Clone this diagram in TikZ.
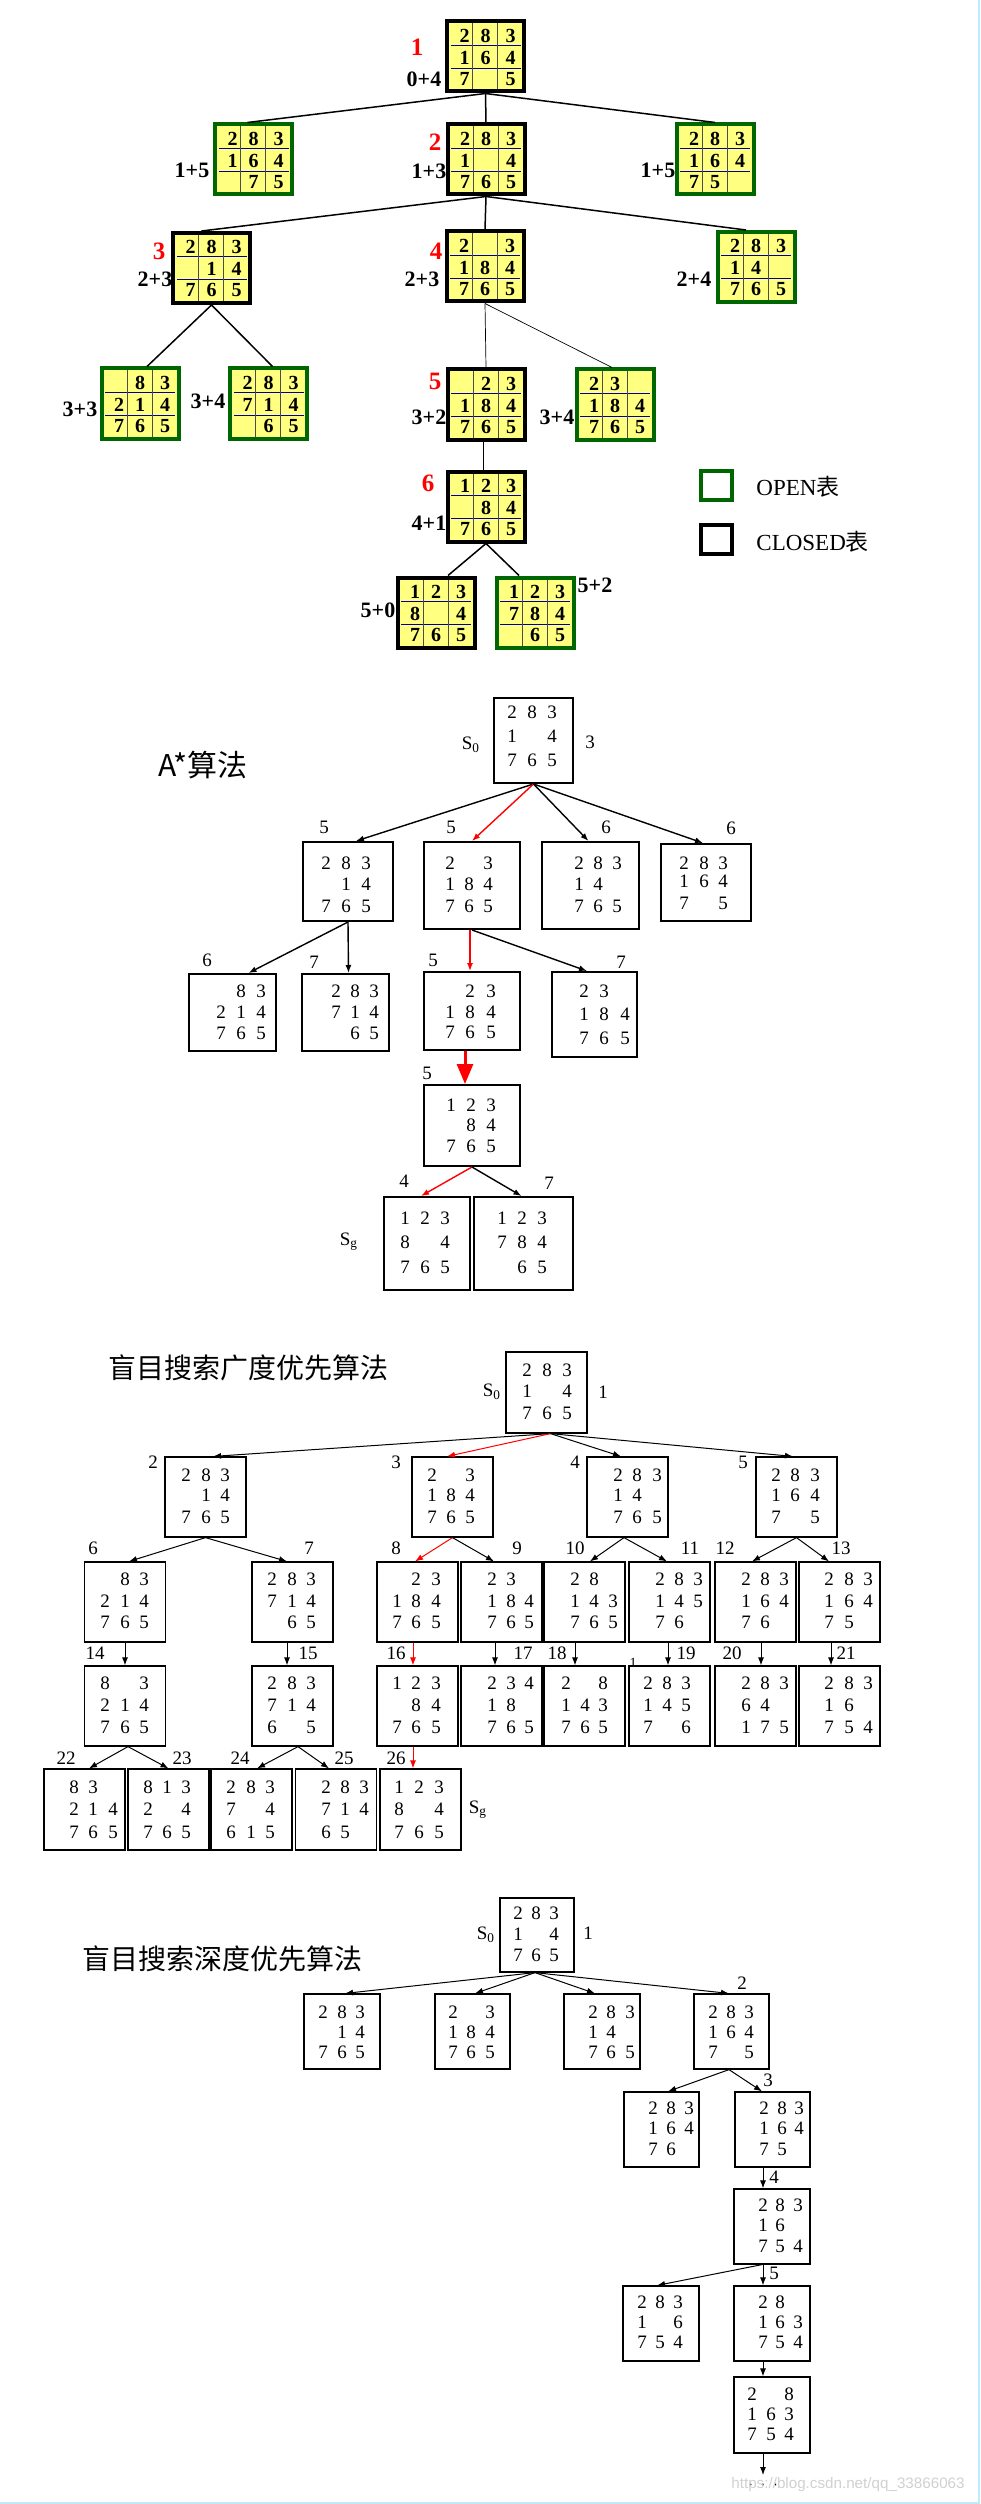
\documentclass[tikz,border=0pt]{standalone}
\usepackage{fontspec}
\setmainfont{Liberation Serif}
\newfontfamily\cjk{Noto Sans CJK SC}
\newfontfamily\wmfont{Liberation Sans}
\usetikzlibrary{arrows.meta}
\definecolor{pzy}{HTML}{FFFF80}
\definecolor{pzg}{HTML}{006600}
\definecolor{pzb}{HTML}{000099}
\newcounter{dgc}
\tikzset{
  dgA/.style={inner sep=0pt, anchor=base, font=\bfseries\fontsize{10}{10}\selectfont},
  dgt/.style={inner sep=0pt, font=\fontsize{9.5}{10}\selectfont},
  lbl/.style={inner sep=0pt, font=\fontsize{9.5}{10}\selectfont},
  lbA/.style={inner sep=0pt, font=\bfseries\fontsize{11}{11}\selectfont},
  lbR/.style={inner sep=0pt, text=red, font=\bfseries\fontsize{12.5}{12}\selectfont},
  bxA/.style={draw, line width=1pt, inner sep=0pt},
  bxB/.style={draw, line width=0.6pt, inner sep=0pt},
  eA/.style={line width=0.75pt},
  eT/.style={line width=0.35pt},
  arr/.style={line width=0.7pt, -{Latex[length=4pt,width=3pt]}},
  arrs/.style={line width=0.5pt, -{Latex[length=4pt,width=3pt]}},
}
\newcommand\pzA[5]{%
  \node[draw=#4, fill=pzy, line width=2pt, minimum width=38.5pt, minimum height=35pt, inner sep=0pt] (#1) at (#2,#3) {};
  \begin{scope}[shift={(#2,#3)}]
    \draw[pzb, line width=0.4pt] (-35,-11.5) -- (35,-11.5) (-35,11.5) -- (35,11.5);
    \draw[black!70, line width=0.3pt] (-13,-33) -- (-13,33) (12,-33) -- (12,33);
  \end{scope}
  \foreach \d [count=\k from 0] in {#5} {%
    \pgfmathtruncatemacro\cc{mod(\k,3)}\pgfmathtruncatemacro\rr{int(\k/3)}%
    \pgfmathsetmacro\xx{#2+{-21,0,25}[\cc]}\pgfmathsetmacro\yy{#3+{-14,8,29}[\rr]}%
    \stepcounter{dgc}\node[dgA] (g\arabic{dgc}) at (\xx,\yy) {\d};
  }}
\newcommand\bx[6]{\node[#6, minimum width=#4*0.5pt, minimum height=#5*0.5pt] (#1) at (#2,#3) {};}
\newcommand\gd[7]{%
  \foreach \d [count=\k from 0] in {#7} {%
    \pgfmathtruncatemacro\cc{mod(\k,3)}\pgfmathtruncatemacro\rr{int(\k/3)}%
    \pgfmathsetmacro\xx{{#1,#2,#3}[\cc]}\pgfmathsetmacro\yy{{#4,#5,#6}[\rr]}%
    \stepcounter{dgc}\node[dgt] (g\arabic{dgc}) at (\xx,\yy) {\d};
  }}
\newcommand\lb[4][lbl]{\stepcounter{dgc}\node[#1] (t\arabic{dgc}) at (#2,#3) {#4};}
\begin{document}
\begin{tikzpicture}[x=0.5pt,y=-0.5pt]
\useasboundingbox (0,0) rectangle (980,2504);
\fill[white] (0,0) rectangle (980,2504);
\draw[color=cyan!25, line width=1pt] (979,0) -- (979,2503) -- (0,2503);

% ===== Section 1 =====
\pzA{a1}{485.5}{56.5}{black}{2,8,3,1,6,4,7,{},5}
\pzA{a2l}{253.5}{159.5}{pzg}{2,8,3,1,6,4,{},7,5}
\pzA{a2}{486}{159.5}{black}{2,8,3,1,{},4,7,6,5}
\pzA{a2r}{715}{159.5}{pzg}{2,8,3,1,6,4,7,5,{}}
\pzA{a3}{211.5}{268}{black}{2,8,3,{},1,4,7,6,5}
\pzA{a4}{485}{266.5}{black}{2,{},3,1,8,4,7,6,5}
\pzA{a3r}{756}{267}{pzg}{2,8,3,1,4,{},7,6,5}
\pzA{a33}{140}{403.5}{pzg}{{},8,3,2,1,4,7,6,5}
\pzA{a34}{268.5}{403.5}{pzg}{2,8,3,7,1,4,{},6,5}
\pzA{a5}{486}{404.5}{black}{{},2,3,1,8,4,7,6,5}
\pzA{a5r}{615}{404.5}{pzg}{2,3,{},1,8,4,7,6,5}
\pzA{a6}{486}{506.5}{black}{1,2,3,{},8,4,7,6,5}
\pzA{a50}{436}{612.5}{black}{1,2,3,8,{},4,7,6,5}
\pzA{a52}{535}{612.5}{pzg}{1,2,3,7,8,4,{},6,5}
\draw[eA] (a1.south) -- ([xshift=-3pt]a2l.north);
\draw[eA] (a1.south) -- (a2.north);
\draw[eA] (a1.south) -- (a2r.north);
\draw[eA] (a2.south) -- ([xshift=-5pt]a3.north);
\draw[eA] (a2.south) -- (a4.north);
\draw[eA] (a2.south) -- ([xshift=-5pt]a3r.north);
\draw[eA] (a3.south) -- ([xshift=3.5pt]a33.north);
\draw[eA] (a3.south) -- ([xshift=2pt]a34.north);
\draw[eT] (a4.south) -- (a5.north);
\draw[eT] (a4.south) -- ([xshift=-1.5pt]a5r.north);
\draw[eT] ([xshift=-1.5pt]a5.south) -- ([xshift=-1.5pt]a6.north);
\draw[eA] (a6.south) -- ([xshift=6pt]a50.north);
\draw[eA] (a6.south) -- ([xshift=-8pt]a52.north);
\lb[lbR]{417}{47}{1}\lb[lbA]{424}{79}{0+4}
\lb[lbA]{192}{170}{1+5}\lb[lbR]{435}{142}{2}\lb[lbA]{429}{171}{1+3}\lb[lbA]{658}{170}{1+5}
\lb[lbR]{159}{251}{3}\lb[lbA]{155}{279}{2+3}\lb[lbR]{436}{251}{4}\lb[lbA]{422}{279}{2+3}\lb[lbA]{694}{279}{2+4}
\lb[lbA]{80}{409}{3+3}\lb[lbA]{208}{401}{3+4}
\lb[lbR]{435}{381}{5}\lb[lbA]{429}{417}{3+2}\lb[lbA]{557}{417}{3+4}
\lb[lbR]{428}{483}{6}\lb[lbA]{429}{523}{4+1}
\lb[lbA]{378}{610}{5+0}\lb[lbA]{595}{585}{5+2}
\node[draw=pzg, line width=2pt, minimum width=15.5pt, minimum height=14.5pt, inner sep=0pt] (lgo) at (716.5,485.5) {};
\node[draw=black, line width=2pt, minimum width=15.5pt, minimum height=14.5pt, inner sep=0pt] (lgc) at (716.5,539.5) {};
\node[anchor=west, inner sep=0pt, font=\fontsize{11.5}{12}\selectfont] (lgot) at (756,487) {OPEN{\cjk 表}};
\node[anchor=west, inner sep=0pt, font=\fontsize{11.5}{12}\selectfont] (lgct) at (756,542) {CLOSED{\cjk 表}};

% ===== Section 2: A* =====
\node[inner sep=0pt, font=\cjk\fontsize{15}{15}\selectfont] (titA) at (203,765) {A*算法};
\bx{s0}{533.5}{740.5}{79}{85}{bxA}
\bx{A}{348}{881.5}{90}{79}{bxA}
\bx{B}{472}{885.5}{96}{87}{bxA}
\bx{C}{590.5}{885.5}{97}{87}{bxA}
\bx{D}{706}{882.5}{90}{77}{bxA}
\bx{E}{232.5}{1012.5}{87}{77}{bxA}
\bx{F}{345.5}{1012.5}{87}{77}{bxA}
\bx{G}{472}{1011}{96}{78}{bxA}
\bx{H}{594.5}{1014.5}{85}{85}{bxA}
\bx{I}{472}{1125.5}{96}{81}{bxA}
\bx{J}{427}{1243.5}{86}{93}{bxA}
\bx{K}{523.5}{1243.5}{99}{93}{bxA}
\gd{512}{532}{552}{712}{736}{760}{2,8,3,1,{},4,7,6,5}
\gd{326}{346}{366}{863}{884}{906}{2,8,3,{},1,4,7,6,5}
\gd{450}{469}{488}{863}{884}{906}{2,{},3,1,8,4,7,6,5}
\gd{579}{598}{617}{863}{884}{906}{2,8,3,1,4,{},7,6,5}
\gd{684}{704}{723}{863}{881}{903}{2,8,3,1,6,4,7,{},5}
\gd{221}{241}{261}{991}{1012}{1033}{{},8,3,2,1,4,7,6,5}
\gd{336}{355}{374}{991}{1012}{1033}{2,8,3,7,1,4,{},6,5}
\gd{450}{470}{491}{991}{1012}{1032}{{},2,3,1,8,4,7,6,5}
\gd{584}{604}{625}{991}{1014}{1038}{2,3,{},1,8,4,7,6,5}
\gd{451}{471}{491}{1105}{1125}{1146}{1,2,3,{},8,4,7,6,5}
\gd{405}{425}{445}{1218}{1242}{1267}{1,2,3,8,{},4,7,6,5}
\gd{502}{522}{542}{1218}{1242}{1267}{1,2,3,7,8,4,{},6,5}
\draw[arr] (s0.south) -- ([xshift=4pt]A.north);
\draw[arr, red] (s0.south) -- (B.north);
\draw[arr] (s0.south) -- ([xshift=-1pt]C.north);
\draw[arr] (s0.south) -- ([xshift=-1.5pt]D.north);
\draw[arr] (A.south) -- ([xshift=8pt]E.north);
\draw[arr] (A.south) -- ([xshift=1.5pt]F.north);
\draw[arr, red] ([xshift=-1pt]B.south) -- ([xshift=-1pt]G.north);
\draw[arr] (B.south) -- ([xshift=-3.75pt]H.north);
\draw[red, line width=1.5pt, -{Triangle[length=10pt,width=8pt]}] ([xshift=-3.5pt]G.south) -- ([xshift=-3.5pt]I.north);
\draw[arr, red] (I.south) -- ([xshift=-3pt]J.north);
\draw[arr] (I.south) -- ([xshift=-1pt]K.north);
\lb{471}{745}{S\textsubscript{0}}\lb{590}{742}{3}
\lb{324}{827}{5}\lb{451}{827}{5}\lb{606}{827}{6}\lb{731}{828}{6}
\lb{207}{960}{6}\lb{314}{962}{7}\lb{433}{960}{5}\lb{621}{962}{7}
\lb{427}{1073}{5}\lb{404}{1181}{4}\lb{549}{1183}{7}\lb{349}{1242}{S\textsubscript{g}}

% ===== Section 3: BFS =====
\node[inner sep=0pt, font=\cjk\fontsize{14}{14}\selectfont] (titB) at (248,1368) {盲目搜索广度优先算法};
\bx{b1}{546.5}{1392.5}{81}{81}{bxB}
\bx{b2}{205.5}{1497}{81}{80}{bxB}
\bx{b3}{452.5}{1497}{81}{80}{bxB}
\bx{b4}{627.5}{1497}{81}{80}{bxB}
\bx{b5}{796.5}{1497}{81}{80}{bxB}
\bx{n6}{125}{1602}{81}{80}{bxB}
\bx{n7}{292.5}{1602}{81}{80}{bxB}
\bx{n8}{417.5}{1602}{81}{80}{bxB}
\bx{n9}{501.5}{1602}{81}{80}{bxB}
\bx{n10}{584.5}{1602}{81}{80}{bxB}
\bx{n11}{669.5}{1602}{81}{80}{bxB}
\bx{n12}{755.5}{1602}{81}{80}{bxB}
\bx{n13}{839.5}{1602}{81}{80}{bxB}
\bx{n14}{125}{1706}{81}{80}{bxB}
\bx{n15}{292.5}{1706}{81}{80}{bxB}
\bx{n16}{417.5}{1706}{81}{80}{bxB}
\bx{n17}{501.5}{1706}{81}{80}{bxB}
\bx{n18}{584.5}{1706}{81}{80}{bxB}
\bx{n19}{669.5}{1706}{81}{80}{bxB}
\bx{n20}{755.5}{1706}{81}{80}{bxB}
\bx{n21}{839.5}{1706}{81}{80}{bxB}
\bx{n22}{84.5}{1809.5}{81}{81}{bxB}
\bx{n23}{168.5}{1809.5}{81}{81}{bxB}
\bx{n24}{251.5}{1809.5}{81}{81}{bxB}
\bx{n25}{336}{1809.5}{81}{81}{bxB}
\bx{n26}{420.5}{1809.5}{81}{81}{bxB}
\gd{527}{547}{567}{1370}{1391}{1413}{2,8,3,1,{},4,7,6,5}
\gd{186}{206}{225}{1475}{1495}{1517}{2,8,3,{},1,4,7,6,5}
\gd{432}{451}{470}{1475}{1495}{1517}{2,{},3,1,8,4,7,6,5}
\gd{618}{637}{657}{1475}{1495}{1517}{2,8,3,1,4,{},7,6,5}
\gd{776}{795}{815}{1475}{1495}{1517}{2,8,3,1,6,4,7,{},5}
\gd{105}{125}{144}{1579}{1601}{1622}{{},8,3,2,1,4,7,6,5}
\gd{272}{292}{311}{1579}{1601}{1622}{2,8,3,7,1,4,{},6,5}
\gd{397}{416}{436}{1579}{1601}{1622}{{},2,3,1,8,4,7,6,5}
\gd{492}{511}{529}{1579}{1601}{1622}{2,3,{},1,8,4,7,6,5}
\gd{575}{594}{613}{1579}{1601}{1622}{2,8,{},1,4,3,7,6,5}
\gd{660}{679}{698}{1579}{1601}{1622}{2,8,3,1,4,5,7,6,{}}
\gd{746}{765}{784}{1579}{1601}{1622}{2,8,3,1,6,4,7,6,{}}
\gd{829}{849}{868}{1579}{1601}{1622}{2,8,3,1,6,4,7,5,{}}
\gd{105}{125}{144}{1683}{1705}{1727}{8,{},3,2,1,4,7,6,5}
\gd{272}{292}{311}{1683}{1705}{1727}{2,8,3,7,1,4,6,{},5}
\gd{397}{416}{436}{1683}{1705}{1727}{1,2,3,{},8,4,7,6,5}
\gd{492}{511}{529}{1683}{1705}{1727}{2,3,4,1,8,{},7,6,5}
\gd{566}{585}{603}{1683}{1705}{1727}{2,{},8,1,4,3,7,6,5}
\gd{648}{667}{686}{1683}{1705}{1727}{2,8,3,1,4,5,7,{},6}
\gd{746}{765}{784}{1683}{1705}{1727}{2,8,3,6,4,{},1,7,5}
\gd{829}{849}{868}{1683}{1705}{1727}{2,8,3,1,6,{},7,5,4}
\gd{74}{93}{113}{1787}{1809}{1832}{8,3,{},2,1,4,7,6,5}
\gd{148}{167}{186}{1787}{1809}{1832}{8,1,3,2,{},4,7,6,5}
\gd{231}{251}{270}{1787}{1809}{1832}{2,8,3,7,{},4,6,1,5}
\gd{326}{345}{364}{1787}{1809}{1832}{2,8,3,7,1,4,6,5,{}}
\gd{399}{419}{439}{1787}{1809}{1832}{1,2,3,8,{},4,7,6,5}
\draw[arrs] ([xshift=2pt]b1.south) -- ([xshift=3.75pt]b2.north);
\draw[arrs, red] ([xshift=2pt]b1.south) -- ([xshift=-2.75pt]b3.north);
\draw[arrs] ([xshift=2pt]b1.south) -- ([xshift=-3.25pt]b4.north);
\draw[arrs] ([xshift=2pt]b1.south) -- ([xshift=-1.75pt]b5.north);
\draw[arrs] (b2.south) -- ([xshift=2pt]n6.north);
\draw[arrs] (b2.south) -- ([xshift=-2.75pt]n7.north);
\draw[arrs, red] (b3.south) -- ([xshift=-1.25pt]n8.north);
\draw[arrs] (b3.south) -- ([xshift=-3.75pt]n9.north);
\draw[arrs] ([xshift=-1.75pt]b4.south) -- ([xshift=2.75pt]n10.north);
\draw[arrs] ([xshift=-1.75pt]b4.south) -- ([xshift=-1.25pt]n11.north);
\draw[arrs] (b5.south) -- ([xshift=-1.75pt]n12.north);
\draw[arrs] (b5.south) -- ([xshift=-5.25pt]n13.north);
\draw[arrs] (n6.south) -- (n14.north);
\draw[arrs] ([xshift=-2.75pt]n7.south) -- ([xshift=-2.75pt]n15.north);
\draw[arrs, red] ([xshift=-2.25pt]n8.south) -- ([xshift=-2.25pt]n16.north);
\draw[arrs] ([xshift=-3.25pt]n9.south) -- ([xshift=-3.25pt]n17.north);
\draw[arrs] ([xshift=-4.75pt]n10.south) -- ([xshift=-4.75pt]n18.north);
\draw[arrs] ([xshift=-0.75pt]n11.south) -- ([xshift=-0.75pt]n19.north);
\draw[arrs] ([xshift=2.75pt]n12.south) -- ([xshift=2.75pt]n20.north);
\draw[arrs] ([xshift=-4.25pt]n13.south) -- ([xshift=-4.25pt]n21.north);
\draw[arrs] ([xshift=1.5pt]n14.south) -- ([xshift=2.25pt]n22.north);
\draw[arrs] ([xshift=1.5pt]n14.south) -- (n23.north);
\draw[arrs] ([xshift=2.75pt]n15.south) -- ([xshift=2.75pt]n24.north);
\draw[arrs] ([xshift=2.75pt]n15.south) -- ([xshift=-3.5pt]n25.north);
\draw[arrs, red] ([xshift=-2.25pt]n16.south) -- ([xshift=-3.75pt]n26.north);
\lb{492}{1392}{S\textsubscript{0}}\lb{603}{1392}{1}
\lb{153}{1462}{2}\lb{396}{1462}{3}\lb{575}{1462}{4}\lb{743}{1462}{5}
\lb{93}{1548}{6}\lb{309}{1548}{7}\lb{396}{1548}{8}\lb{517}{1548}{9}\lb{575}{1548}{10}\lb{690}{1548}{11}\lb{725}{1548}{12}\lb{841}{1548}{13}
\lb{95}{1653}{14}\lb{308}{1653}{15}\lb{396}{1653}{16}\lb{523}{1653}{17}\lb{557}{1653}{18}\lb{686}{1653}{19}\lb{732}{1653}{20}\lb{846}{1653}{21}
\lb[lbl,font=\fontsize{7}{7}\selectfont]{633}{1663}{1}
\lb{66}{1758}{22}\lb{182}{1758}{23}\lb{240}{1758}{24}\lb{344}{1758}{25}\lb{396}{1758}{26}
\lb{478}{1810}{S\textsubscript{g}}

% ===== Section 4: DFS =====
\node[inner sep=0pt, font=\cjk\fontsize{14}{14}\selectfont] (titD) at (222,1959) {盲目搜索深度优先算法};
\bx{c0}{537}{1935}{74}{74}{bxB}
\bx{d1}{342}{2031.5}{76}{75}{bxB}
\bx{d2}{472.5}{2031.5}{75}{75}{bxB}
\bx{d3}{602}{2031.5}{76}{75}{bxB}
\bx{d4}{731.5}{2031.5}{75}{75}{bxB}
\bx{d5}{661.5}{2129.5}{75}{75}{bxB}
\bx{d6}{772.5}{2129.5}{75}{75}{bxB}
\bx{d7}{772}{2226.5}{76}{75}{bxB}
\bx{d8}{661}{2323.5}{76}{75}{bxB}
\bx{d9}{772}{2323.5}{76}{75}{bxB}
\bx{d10}{772}{2415}{76}{76}{bxB}
\gd{518}{536}{554}{1913}{1934}{1955}{2,8,3,1,{},4,7,6,5}
\gd{323}{342}{360}{2012}{2032}{2052}{2,8,3,{},1,4,7,6,5}
\gd{453}{471}{490}{2012}{2032}{2052}{2,{},3,1,8,4,7,6,5}
\gd{593}{611}{630}{2012}{2032}{2052}{2,8,3,1,4,{},7,6,5}
\gd{713}{731}{749}{2012}{2032}{2052}{2,8,3,1,6,4,7,{},5}
\gd{653}{671}{689}{2108}{2128}{2149}{2,8,3,1,6,4,7,6,{}}
\gd{764}{782}{799}{2108}{2128}{2149}{2,8,3,1,6,4,7,5,{}}
\gd{763}{780}{798}{2205}{2225}{2246}{2,8,3,1,6,{},7,5,4}
\gd{642}{660}{678}{2302}{2322}{2342}{2,8,3,1,{},6,7,5,4}
\gd{763}{780}{798}{2302}{2322}{2342}{2,8,{},1,6,3,7,5,4}
\gd{752}{771}{789}{2394}{2414}{2434}{2,{},8,1,6,3,7,5,4}
\coordinate (dend) at (763,2475);
\draw[arrs] ([xshift=-1pt]c0.south) -- ([xshift=1.5pt]d1.north);
\draw[arrs] ([xshift=-1pt]c0.south) -- ([xshift=1.25pt]d2.north);
\draw[arrs] ([xshift=-1pt]c0.south) -- ([xshift=-3.5pt]d3.north);
\draw[arrs] ([xshift=-1pt]c0.south) -- ([xshift=-1.25pt]d4.north);
\draw[arrs] ([xshift=-1.25pt]d4.south) -- ([xshift=3.25pt]d5.north);
\draw[arrs] ([xshift=-1.25pt]d4.south) -- ([xshift=-5.25pt]d6.north);
\draw[arrs] ([xshift=-4.75pt]d6.south) -- ([xshift=-4.5pt]d7.north);
\draw[arrs] ([xshift=-5pt]d7.south) -- ([xshift=-2pt]d8.north);
\draw[arrs] ([xshift=-4.5pt]d7.south) -- ([xshift=-4.5pt]d9.north);
\draw[arrs] ([xshift=-4.5pt]d9.south) -- ([xshift=-4.5pt]d10.north);
\draw[arrs] ([xshift=-4.5pt]d10.south) -- (dend);
\lb{486}{1935}{S\textsubscript{0}}\lb{588}{1933}{1}
\lb{742}{1983}{2}\lb{768}{2080}{3}\lb{774}{2177}{4}\lb{774}{2273}{5}
\lb{763}{2485}{$\cdot\,\cdot\,\cdot$}
\node[inner sep=0pt, text=black!18, font=\wmfont\fontsize{7.6}{8}\selectfont] (wm) at (848,2485) {https://blog.csdn.net/qq\_33866063};
\end{tikzpicture}
\end{document}
